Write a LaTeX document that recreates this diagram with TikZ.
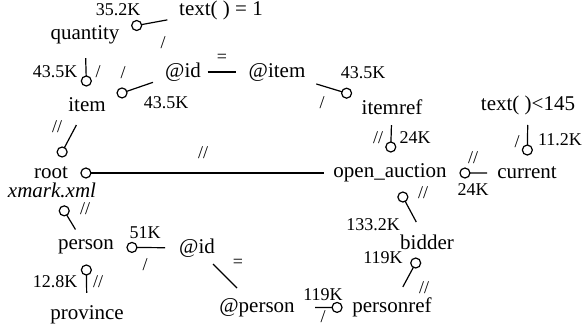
\documentclass[tikz,border=0pt]{standalone}
\usepackage{fontspec}
\setmainfont{Liberation Serif}
\newfontfamily\qfont{Liberation Serif}
\usetikzlibrary{calc}
\begin{document}
\begin{tikzpicture}[x=0.5pt, y=-0.5pt, line width=0.6pt,
  every node/.style={inner sep=0pt, font=\qfont\fontsize{10.5}{12}\selectfont},
  cnt/.style={font=\qfont\fontsize{9}{10}\selectfont},
  circ/.style={draw, circle, fill=white, minimum size=5pt}]
\useasboundingbox (0,0) rectangle (582,333);
\node (quantity) at (85,35) {quantity};
\node (textA) at (221,10) {text( ) = 1};
\node (item) at (87,105) {item};
\node (idA) at (183,72) {@id};
\node (atitem) at (277,72) {@item};
\node (itemref) at (392,107) {itemref};
\node (openauc) at (390,173) {open\_auction};
\node (current) at (527,173) {current};
\node (textB) at (528,105) {text( )<145};
\node (root) at (51,173) {root};
\node (rootdoc) at (52,190.5) {\itshape xmark.xml};
\node (person) at (86,247) {person};
\node (idB) at (197,248) {@id};
\node (province) at (87,315) {province};
\node (atperson) at (257,308) {@person};
\node (personref) at (392,307) {personref};
\node (bidder) at (427,242) {bidder};
\node[cnt] (L1) at (118,10) {35.2K};
\node[cnt] (L2) at (163,43) {/};
\node[cnt] (L3) at (55,72) {43.5K};
\node[cnt] (L4) at (98,72) {/};
\node[cnt] (L5) at (123,73) {/};
\node[cnt] (L6) at (166,103) {43.5K};
\node[cnt] (L7) at (222,58) {=};
\node[cnt] (L8) at (363,73) {43.5K};
\node[cnt] (L9) at (322,103) {/};
\node[cnt] (L10) at (378,138) {//};
\node[cnt] (L11) at (415,138) {24K};
\node[cnt] (L12) at (473,158) {//};
\node[cnt] (L13) at (473,190) {24K};
\node[cnt] (L14) at (517,142) {/};
\node[cnt] (L15) at (560,140) {11.2K};
\node[cnt] (L16) at (57,127) {//};
\node[cnt] (L17) at (203,153) {//};
\node[cnt] (L18) at (85,209) {//};
\node[cnt] (L19) at (423,193) {//};
\node[cnt] (L20) at (373,225) {133.2K};
\node[cnt] (L21) at (383,258) {119K};
\node[cnt] (L22) at (424,288) {//};
\node[cnt] (L23) at (323,295) {119K};
\node[cnt] (L24) at (323,317) {/};
\node[cnt] (L25) at (145,233) {51K};
\node[cnt] (L26) at (145,265) {/};
\node[cnt] (L27) at (238,263) {=};
\node[cnt] (L28) at (55,282) {12.8K};
\node[cnt] (L29) at (98,282) {//};
\draw ($(quantity)!.38!(textA)$) node[circ] {} -- ($(quantity)!.606!(textA)$);
\draw ($(item)!.343!(quantity)$) node[circ] {} -- ($(item)!.671!(quantity)$);
\draw ($(item)!.365!(idA)$) node[circ] {} -- ($(item)!.6875!(idA)$);
\draw ($(idA)!.263!(atitem)$) -- ($(idA)!.568!(atitem)$);
\draw ($(itemref)!.395!(atitem)$) node[circ] {} -- ($(itemref)!.658!(atitem)$);
\draw ($(openauc)!.394!(itemref)$) node[circ] {} -- ($(openauc)!.727!(itemref)$);
\draw ($(openauc)!.547!(current)$) node[circ] {} -- ($(openauc)!.708!(current)$);
\draw ($(current)!.338!(textB)$) node[circ] {} -- ($(current)!.706!(textB)$);
\draw ($(root)!.309!(item)$) node[circ] {} -- ($(root)!.706!(item)$);
\draw ($(root)!.103!(openauc)$) node[circ] {} -- ($(root)!.805!(openauc)$);
\draw ($(rootdoc)!.36!(person)$) node[circ] {} -- ($(rootdoc)!.69!(person)$);
\draw ($(openauc)!.348!(bidder)$) node[circ] {} -- ($(openauc)!.71!(bidder)$);
\draw ($(bidder)!.323!(personref)$) node[circ] {} -- ($(bidder)!.692!(personref)$);
\draw ($(personref)!.407!(atperson)$) node[circ] {} -- ($(personref)!.57!(atperson)$);
\draw ($(person)!.414!(idB)$) node[circ] {} -- ($(person)!.712!(idB)$);
\draw ($(idB)!.267!(atperson)$) -- ($(idB)!.667!(atperson)$);
\draw ($(person)!.338!(province)$) node[circ] {} -- ($(person)!.676!(province)$);
\end{tikzpicture}
\end{document}
